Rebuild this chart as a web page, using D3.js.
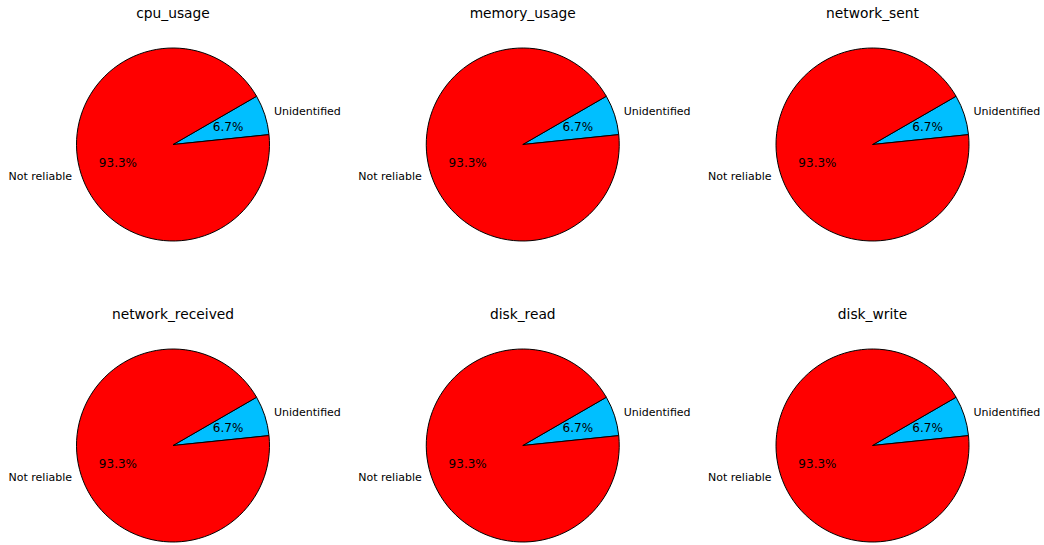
<!DOCTYPE html>
<html>
<head>
<meta charset="utf-8">
<script src="https://cdn.jsdelivr.net/npm/d3@7"></script>
<style>
  html, body { margin: 0; padding: 0; background: #fff; }
  svg { display: block; font-family: "DejaVu Sans", sans-serif; }
</style>
</head>
<body>
<svg id="chart" width="1044" height="545"></svg>
<script>
// ---- data ----
const metrics = ["cpu_usage", "memory_usage", "network_sent", "network_received", "disk_read", "disk_write"];
const categories = ["Unidentified", "Not reliable"];
const colors = ["#00BFFF", "#FF0000"];
const unidentifiedPct = [6.7, 6.7, 6.7, 6.7, 6.7, 6.7];
const notReliablePct = [93.3, 93.3, 93.3, 93.3, 93.3, 93.3];

// ---- layout ----
const svg = d3.select("#chart");
const cols = 3;
const xCenter = d3.scaleLinear().domain([0, 2]).range([173, 872.5]);
const yCenter = d3.scaleLinear().domain([0, 1]).range([144.5, 445.5]);
const R = 96.5;
const startDeg = 60; // d3 angle (clockwise from 12 o'clock)

const pie = d3.pie().sort(null).value(d => d.value)
  .startAngle(startDeg * Math.PI / 180)
  .endAngle((startDeg + 360) * Math.PI / 180);
const arc = d3.arc().innerRadius(0).outerRadius(R);
const color = d3.scaleOrdinal().domain(categories).range(colors);

metrics.forEach((name, i) => {
  const col = i % cols, row = Math.floor(i / cols);
  const cx = xCenter(col), cy = yCenter(row);
  const g = svg.append("g").attr("transform", `translate(${cx},${cy})`);
  const data = [
    { cat: categories[0], value: unidentifiedPct[i] },
    { cat: categories[1], value: notReliablePct[i] }
  ];
  const total = d3.sum(data, d => d.value);
  const arcs = pie(data);

  g.selectAll("path").data(arcs).join("path")
    .attr("d", arc)
    .attr("fill", d => color(d.data.cat))
    .attr("stroke", "#000")
    .attr("stroke-width", 1)
    .attr("stroke-linejoin", "round");

  arcs.forEach(d => {
    const mid = (d.startAngle + d.endAngle) / 2;
    const sx = Math.sin(mid), sy = -Math.cos(mid);
    g.append("text")
      .attr("x", sx * R * 1.1)
      .attr("y", sy * R * 1.1 - 1)
      .attr("dy", "0.35em")
      .attr("text-anchor", sx >= 0 ? "start" : "end")
      .attr("font-size", "11px")
      .attr("fill", "#000")
      .text(d.data.cat);
    g.append("text")
      .attr("x", sx * R * 0.6)
      .attr("y", sy * R * 0.6)
      .attr("dy", "0.35em")
      .attr("text-anchor", "middle")
      .attr("font-size", "12px")
      .attr("fill", "#000")
      .text((d.data.value / total * 100).toFixed(1) + "%");
  });

  svg.append("text")
    .attr("x", cx)
    .attr("y", cy - 126.5)
    .attr("text-anchor", "middle")
    .attr("font-size", "13.8px")
    .attr("fill", "#000")
    .text(name);
});
</script>
</body>
</html>
